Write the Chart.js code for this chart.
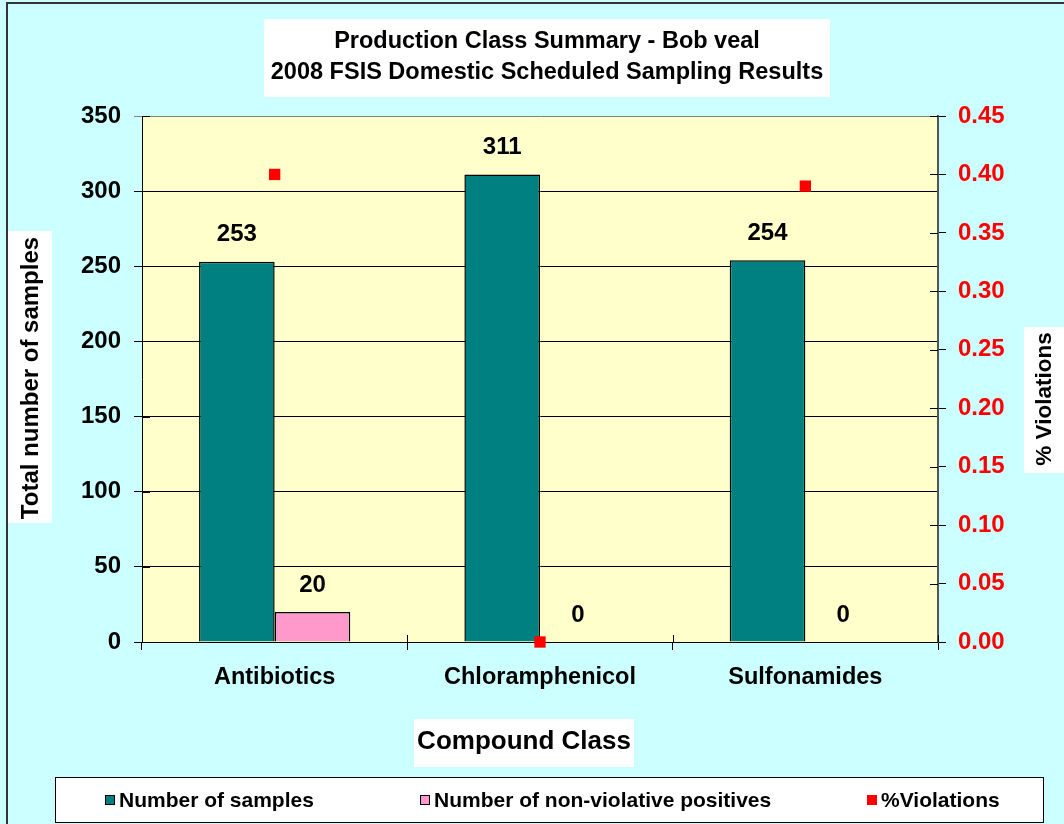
<!DOCTYPE html>
<html>
<head>
<meta charset="utf-8">
<script src="https://cdn.jsdelivr.net/npm/chart.js@4.4.0/dist/chart.umd.min.js"></script>
<style>
  html, body { margin: 0; padding: 0; background: #ccffff; }
  canvas { display: block; }
</style>
</head>
<body>
<canvas id="chart" width="1064" height="824"></canvas>
<script>
const categories = ["Antibiotics", "Chloramphenicol", "Sulfonamides"];
const totalSamples = [253, 311, 254];
const nonViolativePositives = [20, 0, 0];
const pctViolations = [0.40, 0.00, 0.39];
const leftTicks = [0, 50, 100, 150, 200, 250, 300, 350];
const rightTicks = [0, 0.05, 0.10, 0.15, 0.20, 0.25, 0.30, 0.35, 0.40, 0.45];
const titleLines = ["Production Class Summary - Bob veal", "2008 FSIS Domestic Scheduled Sampling Results"];

const FONT = "'Liberation Sans', Arial, sans-serif";

// background, plot area fill, outer frame
const backdrop = {
  id: "backdrop",
  beforeDraw(chart) {
    const { ctx, chartArea: a } = chart;
    ctx.save();
    ctx.fillStyle = "#ccffff";
    ctx.fillRect(0, 0, chart.width, chart.height);
    ctx.strokeStyle = "#333";
    ctx.lineWidth = 2;
    ctx.beginPath();
    ctx.moveTo(7, chart.height);
    ctx.lineTo(7, 3);
    ctx.lineTo(chart.width, 3);
    ctx.stroke();
    ctx.fillStyle = "#ffffcc";
    ctx.fillRect(a.left, a.top, a.right - a.left, a.bottom - a.top);
    ctx.restore();
  }
};

// numbers above the bars + inner half of the crossing tick marks
const barLabels = {
  id: "barLabels",
  afterDatasetsDraw(chart) {
    const { ctx, chartArea: a, scales } = chart;
    ctx.save();
    ctx.strokeStyle = "#000";
    ctx.lineWidth = 1;
    ctx.beginPath();
    leftTicks.forEach((v) => {
      const y = Math.round(scales.y.getPixelForValue(v)) + 0.5;
      ctx.moveTo(a.left, y);
      ctx.lineTo(a.left + 8, y);
    });
    rightTicks.forEach((v) => {
      const y = Math.round(scales.y1.getPixelForValue(v)) + 0.5;
      ctx.moveTo(a.right - 8, y);
      ctx.lineTo(a.right, y);
    });
    const step = (a.right - a.left) / categories.length;
    for (let i = 0; i <= categories.length; i++) {
      const x = Math.round(a.left + i * step) + 0.5;
      ctx.moveTo(x, a.bottom - 7);
      ctx.lineTo(x, a.bottom);
    }
    ctx.stroke();

    ctx.font = "bold 24px " + FONT;
    ctx.fillStyle = "#000";
    ctx.textAlign = "center";
    ctx.textBaseline = "middle";
    chart.data.datasets.forEach((ds, i) => {
      if (ds.type === "line") return;
      chart.getDatasetMeta(i).data.forEach((bar, j) => {
        ctx.fillText(String(ds.data[j]), bar.x, bar.y - 27);
      });
    });
    ctx.restore();
  }
};

// title box, axis titles, legend
const decorations = {
  id: "decorations",
  afterDraw(chart) {
    const { ctx } = chart;
    ctx.save();
    // title
    ctx.fillStyle = "#fff";
    ctx.fillRect(264, 19, 566, 78);
    ctx.fillStyle = "#000";
    ctx.font = "bold 23.5px " + FONT;
    ctx.textAlign = "center";
    ctx.textBaseline = "middle";
    ctx.fillText(titleLines[0], 547, 42);
    ctx.fillText(titleLines[1], 547, 73);

    // x title
    ctx.fillStyle = "#fff";
    ctx.fillRect(414, 719, 220, 48);
    ctx.fillStyle = "#000";
    ctx.font = "bold 26px " + FONT;
    ctx.fillText("Compound Class", 524, 742);

    // left title
    ctx.fillStyle = "#fff";
    ctx.fillRect(8, 231, 44, 292);
    ctx.save();
    ctx.translate(31, 378);
    ctx.rotate(-Math.PI / 2);
    ctx.fillStyle = "#000";
    ctx.font = "bold 24px " + FONT;
    ctx.fillText("Total number of samples", 0, 0);
    ctx.restore();

    // right title
    ctx.fillStyle = "#fff";
    ctx.fillRect(1024, 327, 44, 146);
    ctx.save();
    ctx.translate(1045, 399);
    ctx.rotate(-Math.PI / 2);
    ctx.fillStyle = "#000";
    ctx.font = "bold 22.5px " + FONT;
    ctx.fillText("% Violations", 0, 0);
    ctx.restore();

    // legend
    ctx.fillStyle = "#fff";
    ctx.fillRect(55.5, 777.5, 988, 45);
    ctx.strokeStyle = "#000";
    ctx.lineWidth = 1;
    ctx.strokeRect(55.5, 777.5, 988, 45);
    const xs = [105, 420, 867];
    ctx.font = "bold 21px " + FONT;
    ctx.textAlign = "left";
    chart.data.datasets.forEach((ds, i) => {
      const x = xs[i];
      ctx.fillStyle = ds.backgroundColor;
      ctx.fillRect(x, 795, 10, 10);
      if (ds.type !== "line") {
        ctx.strokeStyle = "#000";
        ctx.strokeRect(x + 0.5, 795.5, 9, 9);
      }
      ctx.fillStyle = "#000";
      ctx.fillText(ds.label, x + 14, 801);
    });
    ctx.restore();
  }
};

new Chart(document.getElementById("chart"), {
  type: "bar",
  data: {
    labels: categories,
    datasets: [
      {
        label: "Number of samples",
        data: totalSamples,
        backgroundColor: "#008080",
        borderColor: "#000",
        borderWidth: 1.5,
        categoryPercentage: 0.57,
        barPercentage: 1.0,
        yAxisID: "y",
        order: 2
      },
      {
        label: "Number of non-violative positives",
        data: nonViolativePositives,
        backgroundColor: "#ff99cc",
        borderColor: "#000",
        borderWidth: 1.5,
        categoryPercentage: 0.57,
        barPercentage: 1.0,
        yAxisID: "y",
        order: 2
      },
      {
        type: "line",
        label: "%Violations",
        data: pctViolations,
        showLine: false,
        pointStyle: "rect",
        pointRadius: 8,
        pointBorderWidth: 0,
        backgroundColor: "#ff0000",
        borderColor: "#ff0000",
        yAxisID: "y1",
        clip: false,
        order: 1
      }
    ]
  },
  options: {
    responsive: false,
    animation: false,
    layout: { padding: { top: 116, left: 0, right: 0, bottom: 0 } },
    plugins: {
      legend: { display: false },
      title: { display: false },
      tooltip: { enabled: false }
    },
    scales: {
      x: {
        grid: { offset: true, drawOnChartArea: false, tickLength: 8, color: "#000" },
        border: { color: "#000", width: 1 },
        ticks: { color: "#000", font: { family: FONT, size: 23.5, weight: "bold" }, padding: 13 },
        afterFit: (s) => { s.height = 182; }
      },
      y: {
        position: "left",
        min: 0,
        max: 350,
        afterBuildTicks: (s) => { s.ticks = leftTicks.map((v) => ({ value: v })); },
        grid: {
          color: (c) => (c.tick && c.tick.value === 350 ? "#808080" : "#000"),
          lineWidth: 1,
          tickLength: 8
        },
        border: { color: "#000", width: 1 },
        ticks: { color: "#000", font: { family: FONT, size: 24, weight: "bold" }, padding: 13 },
        afterFit: (s) => { s.width = 142; }
      },
      y1: {
        position: "right",
        min: 0,
        max: 0.45,
        afterBuildTicks: (s) => { s.ticks = rightTicks.map((v) => ({ value: v })); },
        grid: { drawOnChartArea: false, tickLength: 8, color: "#000" },
        border: { color: "#555", width: 2 },
        ticks: {
          color: "#ff0000",
          font: { family: FONT, size: 24, weight: "bold" },
          padding: 12,
          callback: (v) => Number(v).toFixed(2)
        },
        afterFit: (s) => { s.width = 126; }
      }
    }
  },
  plugins: [backdrop, barLabels, decorations]
});
</script>
</body>
</html>
